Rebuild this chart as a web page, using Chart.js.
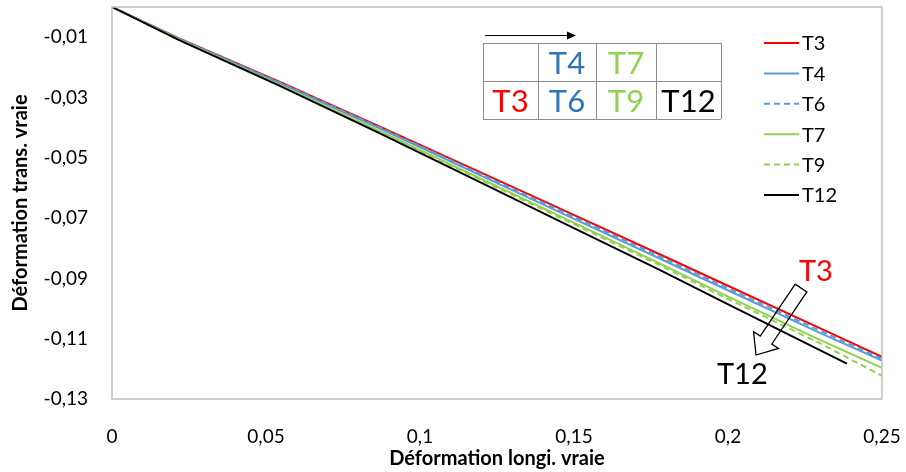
<!DOCTYPE html>
<html>
<head>
<meta charset="utf-8">
<script src="https://cdn.jsdelivr.net/npm/chart.js@4.4.1/dist/chart.umd.min.js"></script>
<style>
  html, body { margin: 0; padding: 0; background: #ffffff; }
  #wrap { width: 906px; height: 472px; position: relative; }
</style>
</head>
<body>
<div id="wrap"><canvas id="c" width="906" height="472"></canvas></div>
<script>
// ---- Data ----
const xStrain = [0, 0.0218, 0.0543, 0.0868, 0.1193, 0.1453, 0.1778, 0.1973, 0.2298, 0.25];
const xStrainT12 = [0, 0.0218, 0.0543, 0.0868, 0.1193, 0.1453, 0.1778, 0.1973, 0.2298, 0.2386];
const yT3  = [0, -0.0104, -0.0248, -0.0396, -0.0547, -0.0668, -0.0820, -0.0912, -0.1065, -0.1160];
const yT4  = [0, -0.0106, -0.0252, -0.0402, -0.0557, -0.0680, -0.0834, -0.0927, -0.1081, -0.1173];
const yT6  = [0, -0.0105, -0.0250, -0.0399, -0.0552, -0.0674, -0.0827, -0.0920, -0.1073, -0.1167];
const yT7  = [0, -0.0108, -0.0258, -0.0411, -0.0567, -0.0693, -0.0850, -0.0947, -0.1104, -0.1197];
const yT9  = [0, -0.0109, -0.0260, -0.0414, -0.0571, -0.0698, -0.0856, -0.0955, -0.1115, -0.1223];
const yT12 = [0, -0.0110, -0.0261, -0.0418, -0.0580, -0.0710, -0.0872, -0.0972, -0.1138, -0.1183];

const seriesNames = ['T3', 'T4', 'T6', 'T7', 'T9', 'T12'];
const xTickValues = [0, 0.05, 0.1, 0.15, 0.2, 0.25];
const xTickLabels = ['0', '0,05', '0,1', '0,15', '0,2', '0,25'];
const yTickValues = [-0.13, -0.11, -0.09, -0.07, -0.05, -0.03, -0.01];
const yTickLabels = ['-0,13', '-0,11', '-0,09', '-0,07', '-0,05', '-0,03', '-0,01'];

// ---- Styles ----
const RED = '#FF0000', BLUE = '#5B9BD5', GREEN = '#92D050', BLACK = '#000000';
const FONT = 'Lato, "Open Sans", sans-serif';

function pts(xs, ys) { return xs.map((x, i) => ({ x: x, y: ys[i] })); }

const styleMap = {
  T3:  { color: RED,   dash: [] },
  T4:  { color: BLUE,  dash: [] },
  T6:  { color: BLUE,  dash: [6, 4] },
  T7:  { color: GREEN, dash: [] },
  T9:  { color: GREEN, dash: [6, 4] },
  T12: { color: BLACK, dash: [] }
};
const yData = { T3: yT3, T4: yT4, T6: yT6, T7: yT7, T9: yT9, T12: yT12 };

const datasets = seriesNames.map((name, i) => ({
  label: name,
  data: pts(name === 'T12' ? xStrainT12 : xStrain, yData[name]),
  borderColor: styleMap[name].color,
  backgroundColor: styleMap[name].color,
  borderDash: styleMap[name].dash,
  borderWidth: 2,
  showLine: true,
  pointRadius: 0,
  tension: 0,
  order: seriesNames.length - 1 - i
}));

function zeroPad(s) { s.paddingTop = 0; s.paddingBottom = 0; s.paddingLeft = 0; s.paddingRight = 0; }

const overlay = {
  id: 'overlay',
  afterDraw(chart) {
    const ctx = chart.ctx;
    const a = chart.chartArea;
    ctx.save();
    // plot area border
    ctx.strokeStyle = '#BFBFBF';
    ctx.lineWidth = 1.5;
    ctx.strokeRect(a.left, a.top, a.right - a.left, a.bottom - a.top);

    // ---- table annotation ----
    const tx = [483, 538, 596, 656, 721];
    const ty = [43, 81, 119];
    ctx.strokeStyle = '#8C8C8C';
    ctx.lineWidth = 1;
    ctx.beginPath();
    ty.forEach(y => { ctx.moveTo(tx[0], y + 0.5); ctx.lineTo(tx[4], y + 0.5); });
    tx.forEach(x => { ctx.moveTo(x + 0.5, ty[0]); ctx.lineTo(x + 0.5, ty[2]); });
    ctx.stroke();
    // arrow above table
    ctx.strokeStyle = '#000';
    ctx.fillStyle = '#000';
    ctx.lineWidth = 1;
    ctx.beginPath(); ctx.moveTo(485, 35.5); ctx.lineTo(568, 35.5); ctx.stroke();
    ctx.beginPath(); ctx.moveTo(576, 35.5); ctx.lineTo(567, 31.5); ctx.lineTo(567, 39.5); ctx.closePath(); ctx.fill();
    // cell texts
    ctx.font = '31px ' + FONT;
    ctx.textAlign = 'center';
    ctx.textBaseline = 'middle';
    const cells = [
      ['T4', '#2E75B6', 1, 0], ['T7', GREEN, 2, 0],
      ['T3', RED, 0, 1], ['T6', '#2E75B6', 1, 1], ['T9', GREEN, 2, 1], ['T12', BLACK, 3, 1]
    ];
    cells.forEach(c => {
      ctx.fillStyle = c[1];
      ctx.fillText(c[0], (tx[c[2]] + tx[c[2] + 1]) / 2, (ty[c[3]] + ty[c[3] + 1]) / 2 + 2);
    });

    // ---- legend ----
    ctx.font = '20px ' + FONT;
    ctx.textAlign = 'left';
    ctx.textBaseline = 'middle';
    chart.data.datasets.forEach((ds, i) => {
      const y = 43 + i * 30.4;
      ctx.strokeStyle = ds.borderColor;
      ctx.lineWidth = 2;
      ctx.setLineDash(ds.borderDash || []);
      ctx.beginPath(); ctx.moveTo(764, y); ctx.lineTo(799, y); ctx.stroke();
      ctx.setLineDash([]);
      ctx.fillStyle = '#000';
      ctx.fillText(ds.label, 802, y + 1);
    });

    // ---- hollow arrow T3 -> T12 ----
    const sx = 801, sy = 288, ex = 756, ey = 355;
    const L = Math.hypot(ex - sx, ey - sy);
    const dx = (ex - sx) / L, dy = (ey - sy) / L;
    const nx = -dy, ny = dx;
    const hw = 7, hh = 15, hl = 18;
    const bx = ex - dx * hl, by = ey - dy * hl;
    ctx.strokeStyle = '#000';
    ctx.lineWidth = 1.3;
    ctx.beginPath();
    ctx.moveTo(sx + nx * hw, sy + ny * hw);
    ctx.lineTo(bx + nx * hw, by + ny * hw);
    ctx.lineTo(bx + nx * hh, by + ny * hh);
    ctx.lineTo(ex, ey);
    ctx.lineTo(bx - nx * hh, by - ny * hh);
    ctx.lineTo(bx - nx * hw, by - ny * hw);
    ctx.lineTo(sx - nx * hw, sy - ny * hw);
    ctx.closePath();
    ctx.stroke();

    ctx.font = '29px ' + FONT;
    ctx.textAlign = 'left';
    ctx.fillStyle = RED;
    ctx.fillText('T3', 799, 272);
    ctx.fillStyle = '#000';
    ctx.fillText('T12', 717, 375);
    ctx.restore();
  }
};

new Chart(document.getElementById('c'), {
  type: 'scatter',
  data: { datasets: datasets },
  options: {
    responsive: false,
    animation: false,
    layout: { padding: { top: 7, right: 24, left: 0, bottom: 0 } },
    plugins: { legend: { display: false }, tooltip: { enabled: false } },
    scales: {
      x: {
        type: 'linear',
        min: 0, max: 0.25,
        afterFit(s) { s.height = 73; zeroPad(s); },
        afterBuildTicks(s) { s.ticks = xTickValues.map(v => ({ value: v })); },
        grid: { display: false, drawTicks: false },
        border: { display: false },
        ticks: {
          color: '#000', padding: 26,
          font: { family: FONT, size: 19 },
          callback: (v, i) => xTickLabels[i]
        },
        title: {
          display: true, text: 'Déformation longi. vraie', color: '#000',
          font: { family: FONT, size: 20, weight: 'bold' },
          padding: { top: 0, bottom: 1 }
        }
      },
      y: {
        type: 'linear',
        min: -0.13, max: 0,
        afterFit(s) { s.width = 112; zeroPad(s); },
        afterBuildTicks(s) { s.ticks = yTickValues.map(v => ({ value: v })); },
        grid: { display: false, drawTicks: false },
        border: { display: false },
        ticks: {
          color: '#000', padding: 24,
          font: { family: FONT, size: 19 },
          callback: (v, i) => yTickLabels[i]
        },
        title: {
          display: true, text: 'Déformation trans. vraie', color: '#000',
          font: { family: FONT, size: 20, weight: 'bold' },
          padding: { top: 9, bottom: 0 }
        }
      }
    }
  },
  plugins: [overlay]
});
</script>
</body>
</html>
